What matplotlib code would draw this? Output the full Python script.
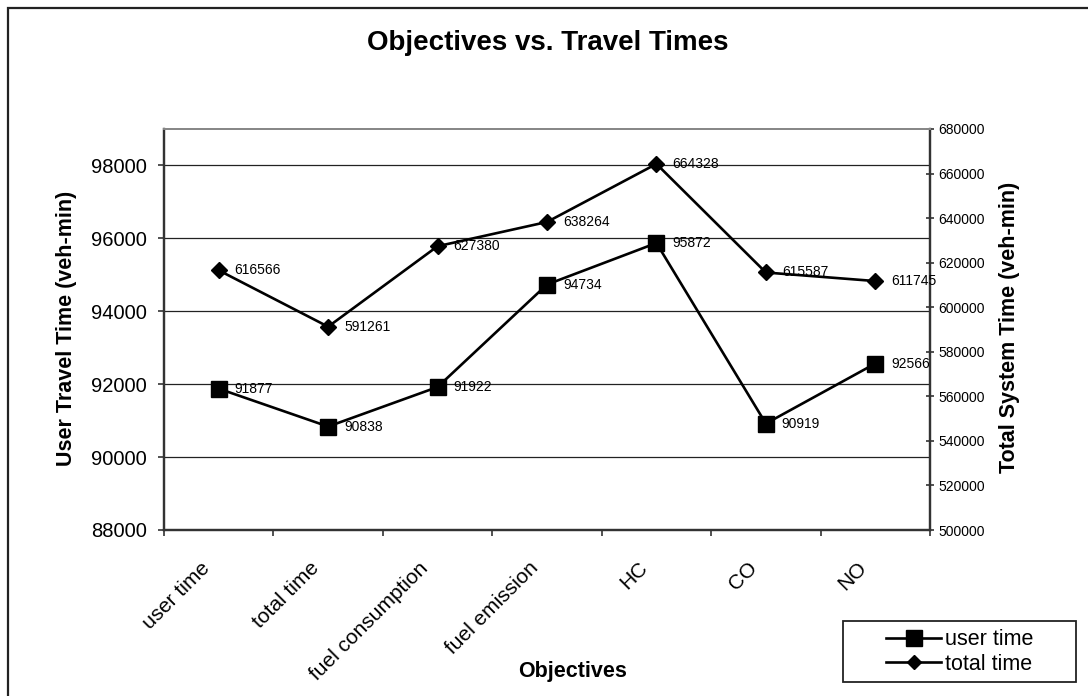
import matplotlib
matplotlib.use("Agg")
import matplotlib.pyplot as plt
import matplotlib.transforms as mtransforms
from matplotlib.patches import Rectangle
from matplotlib.lines import Line2D
from matplotlib.ticker import FixedLocator, NullFormatter

plt.rcParams['font.family'] = ['Liberation Sans', 'DejaVu Sans']

objectives = ["user time", "total time", "fuel consumption", "fuel emission", "HC", "CO", "NO"]
user_time = [91877, 90838, 91922, 94734, 95872, 90919, 92566]
total_time = [616566, 591261, 627380, 638264, 664328, 615587, 611745]
left_ticks = [88000, 90000, 92000, 94000, 96000, 98000]
right_ticks = [500000, 520000, 540000, 560000, 580000, 600000, 620000, 640000, 660000, 680000]

W, H = 1088, 696
fig = plt.figure(figsize=(W / 100, H / 100), dpi=100)
fig.patch.set_facecolor("white")


def fx(px):
    return px / W


def fy(py):
    return 1 - py / H


# outer chart border (left and top edges visible)
fig.patches.append(Rectangle((fx(8), -0.1), 1.2, fy(8) + 0.1,
                             transform=fig.transFigure, fill=False,
                             edgecolor="#222222", lw=1.6, zorder=0))

x0, x1, y0, y1 = 164, 930, 129, 530
ax = fig.add_axes([fx(x0), fy(y1), (x1 - x0) / W, (y1 - y0) / H])
ax2 = ax.twinx()

xs = [i + 0.5 for i in range(len(objectives))]

ax.set_xlim(0, len(objectives))
ax.set_ylim(88000, 99000)
ax2.set_ylim(500000, 680000)

ax.set_yticks(left_ticks)
ax.set_yticklabels([str(v) for v in left_ticks], fontsize=14.5)
ax.yaxis.grid(True, color="#222222", lw=0.9)
ax.set_axisbelow(True)

# category boundaries get tick marks; names sit between them, slanted
ax.xaxis.set_major_locator(FixedLocator(range(len(objectives) + 1)))
ax.xaxis.set_major_formatter(NullFormatter())
ax.tick_params(axis="x", which="major", direction="out", length=4.5, width=1.2, color="#333333")
ax.tick_params(axis="y", direction="out", length=4.5, width=1.2, color="#333333", pad=8)

label_tf = mtransforms.blended_transform_factory(ax.transData, ax.transAxes) + \
    mtransforms.ScaledTranslation(-12 / 100, -35 / 100, fig.dpi_scale_trans)
for x, name in zip(xs, objectives):
    ax.text(x, 0, name, transform=label_tf, rotation=45, rotation_mode="anchor",
            ha="right", va="center", fontsize=15, clip_on=False)

ax2.set_yticks(right_ticks)
ax2.set_yticklabels([str(v) for v in right_ticks], fontsize=10)
ax2.tick_params(axis="y", direction="inout", length=6, width=1.2, color="#333333", pad=3)

for a in (ax, ax2):
    for s in a.spines.values():
        s.set_linewidth(1.6)
        s.set_color("#333333")
    a.spines["top"].set_color("#888888")
    a.spines["top"].set_linewidth(1.4)

ax.plot(xs, user_time, color="black", lw=1.9, marker="s", markersize=11, zorder=3)
ax2.plot(xs, total_time, color="black", lw=1.9, marker="D", markersize=7.8, zorder=3)

for x, v in zip(xs, user_time):
    ax.annotate(str(v), (x, v), xytext=(11.5, 0), textcoords="offset points",
                va="center", ha="left", fontsize=10)
for x, v in zip(xs, total_time):
    ax2.annotate(str(v), (x, v), xytext=(11.5, 0), textcoords="offset points",
                 va="center", ha="left", fontsize=10)

fig.text(fx(548), fy(43), "Objectives vs. Travel Times", ha="center", va="center",
         fontsize=20, fontweight="bold")
fig.text(fx(573), fy(672), "Objectives", ha="center", va="center",
         fontsize=15.5, fontweight="bold")
fig.text(fx(67), fy(328), "User Travel Time (veh-min)", ha="center", va="center",
         rotation=90, fontsize=15.5, fontweight="bold")
fig.text(fx(1010), fy(327), "Total System Time (veh-min)", ha="center", va="center",
         rotation=90, fontsize=15.5, fontweight="bold")

# legend box and entries
fig.patches.append(Rectangle((fx(843), fy(682)), (1076 - 843) / W, (682 - 621) / H,
                             transform=fig.transFigure, fill=True, facecolor="white",
                             edgecolor="#222222", lw=1.3, zorder=1))
handles = [Line2D([], [], color="black", lw=1.9, marker="s", markersize=11),
           Line2D([], [], color="black", lw=1.9, marker="D", markersize=7.5)]
leg = fig.legend(handles, ["user time", "total time"],
                 loc="center", bbox_to_anchor=(fx(960), fy(652)),
                 frameon=False, fontsize=15.5,
                 handlelength=2.55, handletextpad=0.2, borderpad=0.0, labelspacing=0.15,
                 borderaxespad=0)
leg.set_zorder(2)

fig.savefig("out.png", dpi=100, facecolor="white")
